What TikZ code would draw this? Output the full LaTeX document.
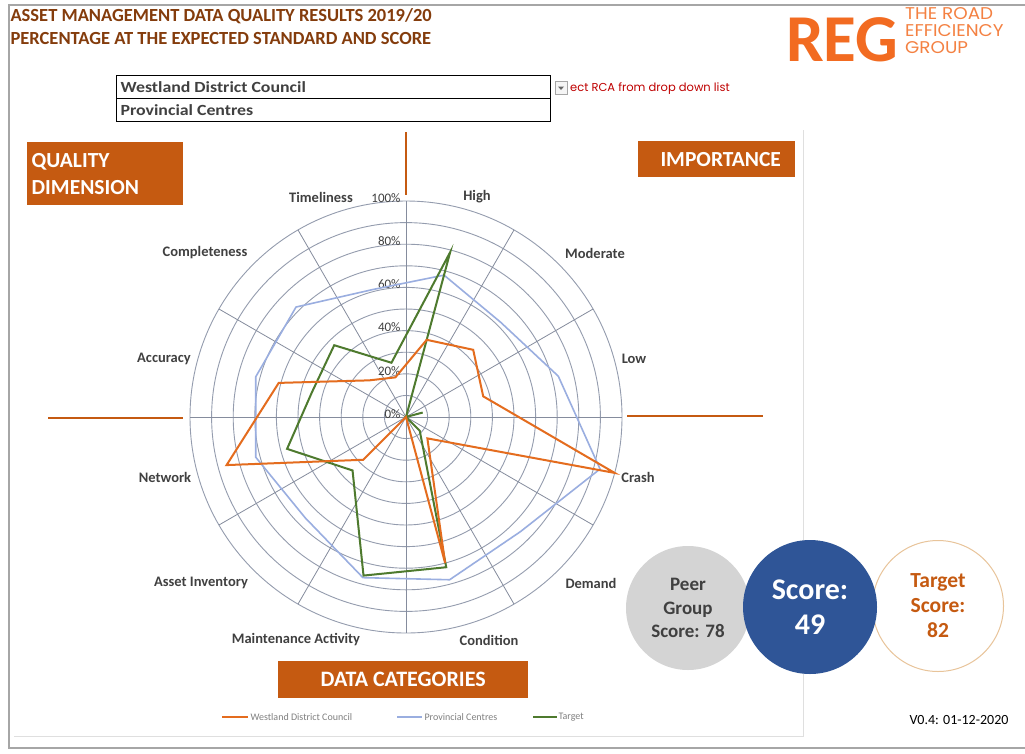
\documentclass[tikz,border=0pt]{standalone}
\usepackage{fontspec}
\setmainfont{Carlito}
\newfontfamily\pop{Poppins}
\usetikzlibrary{calc}
\definecolor{boxor}{HTML}{C55A11}
\definecolor{lineor}{HTML}{E46C1E}
\definecolor{linebl}{HTML}{9AAEE0}
\definecolor{linegr}{HTML}{4E7A2E}
\definecolor{titlec}{HTML}{843C0C}
\definecolor{ringc}{HTML}{949CAE}
\definecolor{scoreb}{HTML}{2F5597}
\definecolor{peerg}{HTML}{D4D4D4}
\definecolor{tgtring}{HTML}{E8C49A}
\definecolor{regor}{HTML}{F26B21}
\definecolor{labc}{HTML}{404040}
\tikzset{
  ring/.style={draw=ringc, line width=0.9pt},
  spoke/.style={draw=ringc!90!black, line width=0.8pt},
  axlab/.style={font=\bfseries\fontsize{14.5}{16}\selectfont, text=labc},
  pct/.style={font=\fontsize{13}{14}\selectfont, text=labc, anchor=east},
  obox/.style={fill=boxor, text=white, font=\bfseries\fontsize{21.5}{27}\selectfont, inner sep=0pt},
  cross/.style={draw=boxor, line width=1.6pt},
  ser/.style={line width=2pt, line join=miter},
  leg/.style={font=\fontsize{10}{12}\selectfont, text=gray, anchor=west},
  ddrow/.style={draw=black, line width=1pt, minimum width=434pt, minimum height=23pt, inner sep=0pt},
  ddtext/.style={anchor=west, font=\bfseries\fontsize{15.5}{17}\selectfont, text=labc},
  ttl/.style={anchor=west, font=\bfseries\fontsize{18.5}{20}\selectfont, text=titlec}
}
\begin{document}
\begin{tikzpicture}[x=1pt,y=-1pt]
\useasboundingbox (0,0) rectangle (1025,753);
\fill[white] (0,0) rectangle (1025,753);
% outer frame
\draw[gray!70, line width=1.2pt] (1025,5) -- (9,5) -- (9,748) -- (1025,748);
% chart panel
\draw[gray!25, line width=1pt] (14,736) -- (803,736) -- (803,130);
% title
\node[ttl] (t1) at (7,16) {ASSET MANAGEMENT DATA QUALITY RESULTS 2019/20};
\node[ttl] (t2) at (7,38) {PERCENTAGE AT THE EXPECTED STANDARD AND SCORE};
% logo
\node[anchor=west, font=\bfseries\fontsize{67}{67}\selectfont, text=regor, inner sep=0pt] (reg) at (786,40) {REG};
\node[anchor=west, font=\pop\fontsize{17}{17}\selectfont, text=regor!85, align=left, inner sep=0pt] (regt) at (905,31) {\scalebox{1.08}[1]{THE ROAD}\\\scalebox{1.08}[1]{EFFICIENCY}\\\scalebox{1.08}[1]{GROUP}};
% drop-down
\node[ddrow, anchor=north west] (dd1) at (116,75) {};
\node[ddrow, anchor=north west] (dd2) at (116,98) {};
\node[ddtext] (dd1t) at (117,87) {\scalebox{1.15}[1]{Westland District Council}};
\node[ddtext] (dd2t) at (117,110) {\scalebox{1.15}[1]{Provincial Centres}};
\node[draw=gray!70, fill=gray!8, minimum width=12pt, minimum height=13pt, inner sep=0pt] (btn) at (561,88) {};
\fill[gray!80!black] ($(btn.center)+(-3,-1.5)$) -- ($(btn.center)+(3,-1.5)$) -- ($(btn.center)+(0,2)$) -- cycle;
\node[anchor=west, font=\pop\fontsize{11.5}{13}\selectfont, text=red!75!black, inner sep=0pt] (hint) at (570,89) {\scalebox{1.0}[1]{ect RCA from drop down list}};
% orange boxes
\node[obox, anchor=north west, minimum width=156pt, minimum height=63pt, align=left, text width=147pt] (qd) at (27,142) {QUALITY\\DIMENSION};
\node[obox, anchor=north west, minimum width=157pt, minimum height=36pt] (imp) at (638,141) {\hspace*{8pt}IMPORTANCE};
\node[obox, anchor=north west, minimum width=250pt, minimum height=37pt, font=\bfseries\fontsize{22}{24}\selectfont] (dc) at (278,661) {DATA CATEGORIES};
% cross lines
\coordinate (c) at (406,417);
\coordinate (vt1) at (406,132); \coordinate (vt2) at (406,195);
\coordinate (hl1) at (48,418); \coordinate (hl2) at (183,418);
\coordinate (hr1) at (627,416); \coordinate (hr2) at (763,416);
\draw[cross] (vt1) -- (vt2);
\draw[cross] (hl1) -- (hl2);
\draw[cross] (hr1) -- (hr2);
% rings and spokes
\foreach \k in {1,...,10} \draw[ring] (c) circle[radius=\k*21.6pt];
\foreach \a in {0,30,...,330} {
  \coordinate (sp\a) at ({406+216*sin(\a)},{417-216*cos(\a)});
  \draw[spoke] (c) -- (sp\a);
}
% percentage labels
\foreach \p [count=\i from 0] in {0\%,20\%,40\%,60\%,80\%,100\%}
  \node[pct] (pl\i) at (404,{414-43.2*\i}) {\p};
% axis labels
\node[axlab] (lTim) at (321,197) {Timeliness};
\node[axlab] (lHigh) at (477,197) {High};
\node[axlab] (lCom) at (205,253) {Completeness};
\node[axlab] (lMod) at (595,253) {Moderate};
\node[axlab] (lAcc) at (164,359) {Accuracy};
\node[axlab] (lLow) at (634,359) {Low};
\node[axlab] (lNet) at (165,477) {Network};
\node[axlab] (lCra) at (638,477) {Crash};
\node[axlab] (lAss) at (201,583) {Asset Inventory};
\node[axlab] (lDem) at (591,583) {Demand};
\node[axlab] (lMai) at (296,640) {Maintenance Activity};
\node[axlab] (lCon) at (489,640) {Condition};
% series: High, Moderate, Low, Crash, Demand, Condition, Maintenance, Asset Inv, Network, Accuracy, Completeness, Timeliness
\foreach \v [count=\i] in {68,62,73,93,75,78,77,66,72,72,72,61}
  \coordinate (b\i) at ({406+2.16*\v*sin(15+30*(\i-1))},{417-2.16*\v*cos(15+30*(\i-1))});
\foreach \v [count=\i] in {79,0,8,0,9,72,76,35,57,45,47,26}
  \coordinate (g\i) at ({406+2.16*\v*sin(15+30*(\i-1))},{417-2.16*\v*cos(15+30*(\i-1))});
\foreach \v [count=\i] in {37,44,37,100,14,70,0,28,86,61,24,19}
  \coordinate (o\i) at ({406+2.16*\v*sin(15+30*(\i-1))},{417-2.16*\v*cos(15+30*(\i-1))});
\draw[ser, linebl, line width=1.6pt] (b1)--(b2)--(b3)--(b4)--(b5)--(b6)--(b7)--(b8)--(b9)--(b10)--(b11)--(b12)--cycle;
\draw[ser, linegr] (g1)--(g2)--(g3)--(g4)--(g5)--(g6)--(g7)--(g8)--(g9)--(g10)--(g11)--(g12)--cycle;
\draw[ser, lineor] (o1)--(o2)--(o3)--(o4)--(o5)--(o6)--(o7)--(o8)--(o9)--(o10)--(o11)--(o12)--cycle;
% legend
\coordinate (lo1) at (222,717); \coordinate (lo2) at (248,717);
\coordinate (lb1) at (397,717); \coordinate (lb2) at (422,717);
\coordinate (lg1) at (533,717); \coordinate (lg2) at (557,717);
\draw[lineor, line width=1.6pt] (lo1) -- (lo2);
\draw[linebl, line width=1.3pt] (lb1) -- (lb2);
\draw[linegr, line width=1.6pt] (lg1) -- (lg2);
\node[leg] (lot) at (247,717) {Westland District Council};
\node[leg] (lbt) at (421,717) {Provincial Centres};
\node[leg] (lgt) at (555,717) {Target};
% score circles
\node[circle, fill=peerg, minimum size=124pt, inner sep=0pt, align=center, font=\bfseries\fontsize{19}{23.5}\selectfont, text=labc] (peer) at (688,608) {Peer\\Group\\Score: 78};
\node[circle, draw=tgtring, fill=white, line width=1pt, minimum size=131pt, inner sep=0pt, align=center, font=\bfseries\fontsize{21.5}{25}\selectfont, text=boxor] (tgt) at (938,606) {Target\\Score:\\82};
\node[circle, fill=scoreb, minimum size=134pt, inner sep=0pt, align=center, font=\bfseries\fontsize{30}{35}\selectfont, text=white] (score) at (810,607) {Score:\\49};
% version
\node[font=\fontsize{14}{16}\selectfont, text=black] (ver) at (959,720) {V0.4: 01-12-2020};
\end{tikzpicture}
\end{document}
